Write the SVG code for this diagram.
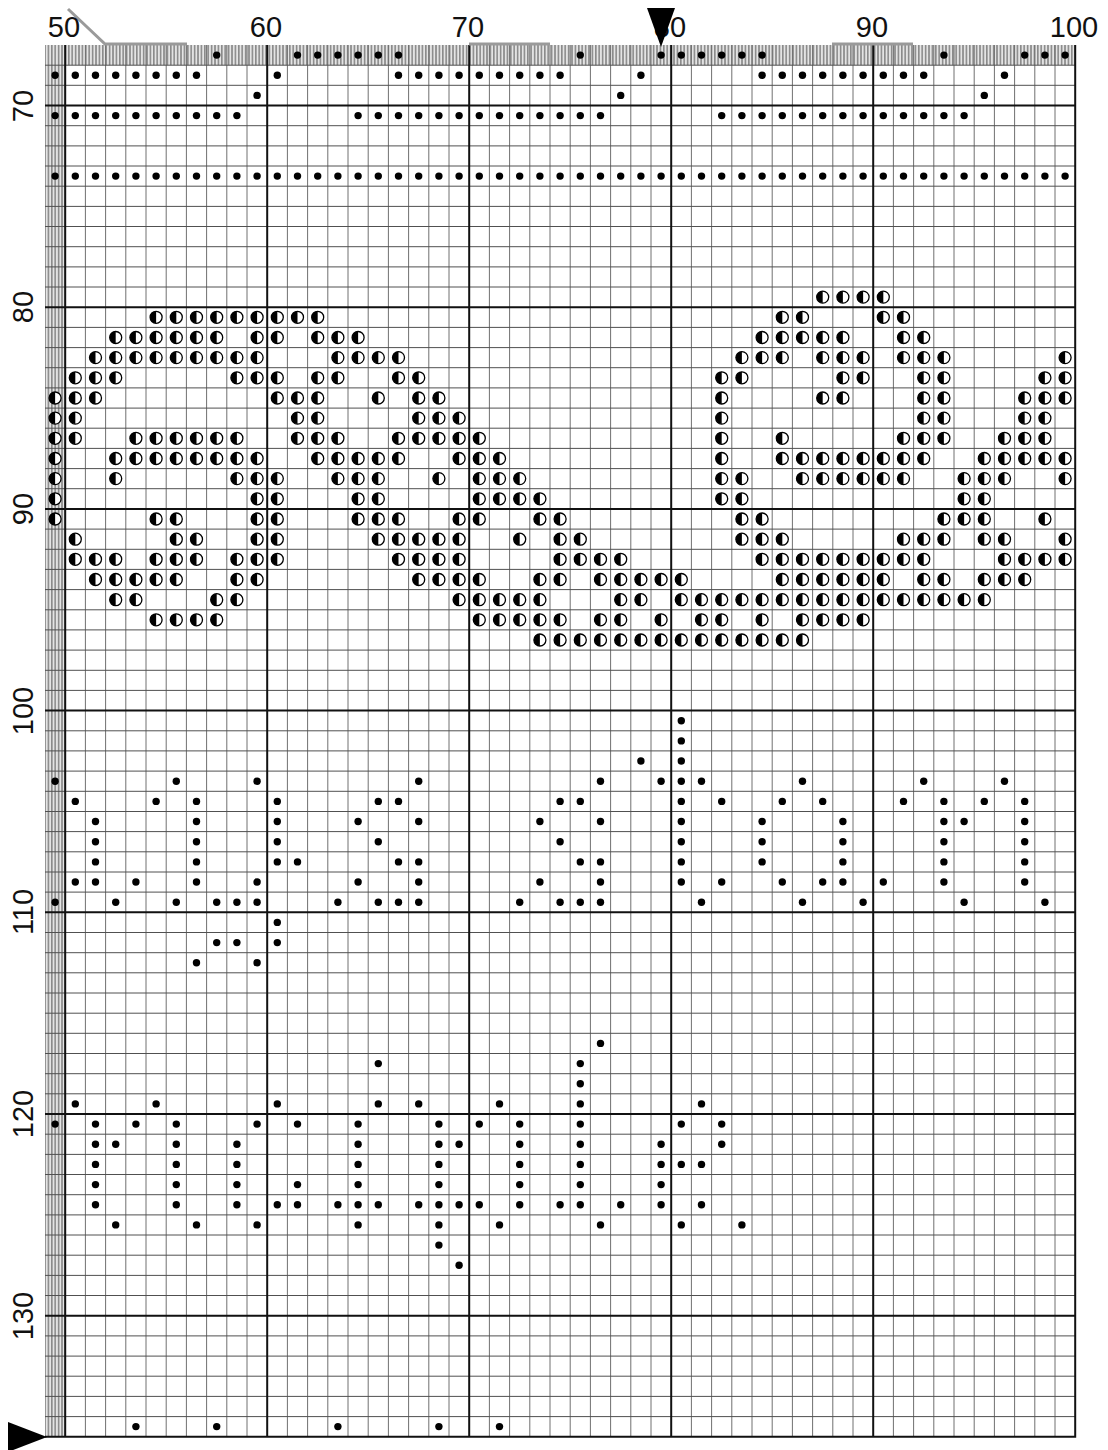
<svg xmlns="http://www.w3.org/2000/svg" xmlns:xlink="http://www.w3.org/1999/xlink" width="1108" height="1450" viewBox="0 0 1108 1450">
<style>
.lbl{font-family:"Liberation Sans",Arial,sans-serif;font-size:29px;fill:#111}
.thv{stroke:#707070;stroke-width:1;fill:none}
.thh{stroke:#505050;stroke-width:1;fill:none}
.bold{stroke:#111;stroke-width:2;fill:none}
.ruler{stroke:#9a9a9a;stroke-width:3;fill:none}
</style>
<defs>
<pattern id="hatch" patternUnits="userSpaceOnUse" width="3.4" height="10"><rect width="3.4" height="10" fill="#e4e4e4"/><rect width="1.6" height="10" fill="#8a8a8a"/></pattern>
<circle id="d" r="3.7" fill="#000"/>
<g id="h"><circle r="6" fill="#fff" stroke="#000" stroke-width="1.3"/><path d="M0,-6A6,6 0 0 0 0,6Z" fill="#000"/></g>
</defs>
<rect width="1108" height="1450" fill="#fff"/>
<g id="band">
<rect x="45" y="45" width="1030.2" height="20.2" fill="url(#hatch)"/>
<rect x="45" y="45" width="20.2" height="1391.7" fill="url(#hatch)"/>
</g>
<g id="grid">
<path class="thv" d="M85.4,45V1436.7M105.6,45V1436.7M125.8,45V1436.7M146,45V1436.7M166.2,45V1436.7M186.4,45V1436.7M206.6,45V1436.7M226.8,45V1436.7M247,45V1436.7M287.4,45V1436.7M307.6,45V1436.7M327.8,45V1436.7M348,45V1436.7M368.2,45V1436.7M388.4,45V1436.7M408.6,45V1436.7M428.8,45V1436.7M449,45V1436.7M489.4,45V1436.7M509.6,45V1436.7M529.8,45V1436.7M550,45V1436.7M570.2,45V1436.7M590.4,45V1436.7M610.6,45V1436.7M630.8,45V1436.7M651,45V1436.7M691.4,45V1436.7M711.6,45V1436.7M731.8,45V1436.7M752,45V1436.7M772.2,45V1436.7M792.4,45V1436.7M812.6,45V1436.7M832.8,45V1436.7M853,45V1436.7M893.4,45V1436.7M913.6,45V1436.7M933.8,45V1436.7M954,45V1436.7M974.2,45V1436.7M994.4,45V1436.7M1014.6,45V1436.7M1034.8,45V1436.7M1055,45V1436.7"/>
<path class="thh" d="M45,65.2H1075.2M45,85.3H1075.2M45,125.7H1075.2M45,145.9H1075.2M45,166H1075.2M45,186.2H1075.2M45,206.4H1075.2M45,226.5H1075.2M45,246.7H1075.2M45,266.9H1075.2M45,287H1075.2M45,327.4H1075.2M45,347.6H1075.2M45,367.7H1075.2M45,387.9H1075.2M45,408.1H1075.2M45,428.2H1075.2M45,448.4H1075.2M45,468.6H1075.2M45,488.7H1075.2M45,529.1H1075.2M45,549.3H1075.2M45,569.4H1075.2M45,589.6H1075.2M45,609.8H1075.2M45,629.9H1075.2M45,650.1H1075.2M45,670.3H1075.2M45,690.4H1075.2M45,730.8H1075.2M45,750.9H1075.2M45,771.1H1075.2M45,791.3H1075.2M45,811.5H1075.2M45,831.6H1075.2M45,851.8H1075.2M45,872H1075.2M45,892.1H1075.2M45,932.5H1075.2M45,952.7H1075.2M45,972.8H1075.2M45,993H1075.2M45,1013.2H1075.2M45,1033.3H1075.2M45,1053.5H1075.2M45,1073.7H1075.2M45,1093.8H1075.2M45,1134.2H1075.2M45,1154.4H1075.2M45,1174.5H1075.2M45,1194.7H1075.2M45,1214.9H1075.2M45,1235H1075.2M45,1255.2H1075.2M45,1275.4H1075.2M45,1295.5H1075.2M45,1335.9H1075.2M45,1356.1H1075.2M45,1376.2H1075.2M45,1396.4H1075.2M45,1416.6H1075.2"/>
<path class="bold" d="M65.2,45V1436.7M267.2,45V1436.7M469.2,45V1436.7M671.2,45V1436.7M873.2,45V1436.7M1075.2,45V1437.7M45,105.5H1075.2M45,307.2H1075.2M45,508.9H1075.2M45,710.6H1075.2M45,912.3H1075.2M45,1114H1075.2M45,1315.7H1075.2M45,1436.7H1076.2"/>
</g>
<g id="rulers">
<polyline class="ruler" points="68,9 105,44 187,44"/>
<line class="ruler" x1="469" y1="44" x2="550" y2="44"/>
<line class="ruler" x1="832" y1="44" x2="913" y2="44"/>
</g>
<g id="half-stitches">
<g transform="translate(0,297.1)"><use href="#h" x="822.7"/><use href="#h" x="842.9"/><use href="#h" x="863.1"/><use href="#h" x="883.3"/></g>
<g transform="translate(0,317.3)"><use href="#h" x="156.1"/><use href="#h" x="176.3"/><use href="#h" x="196.5"/><use href="#h" x="216.7"/><use href="#h" x="236.9"/><use href="#h" x="257.1"/><use href="#h" x="277.3"/><use href="#h" x="297.5"/><use href="#h" x="317.7"/><use href="#h" x="782.3"/><use href="#h" x="802.5"/><use href="#h" x="883.3"/><use href="#h" x="903.5"/></g>
<g transform="translate(0,337.5)"><use href="#h" x="115.7"/><use href="#h" x="135.9"/><use href="#h" x="156.1"/><use href="#h" x="176.3"/><use href="#h" x="196.5"/><use href="#h" x="216.7"/><use href="#h" x="257.1"/><use href="#h" x="277.3"/><use href="#h" x="317.7"/><use href="#h" x="337.9"/><use href="#h" x="358.1"/><use href="#h" x="762.1"/><use href="#h" x="782.3"/><use href="#h" x="802.5"/><use href="#h" x="822.7"/><use href="#h" x="842.9"/><use href="#h" x="903.5"/><use href="#h" x="923.7"/></g>
<g transform="translate(0,357.6)"><use href="#h" x="95.5"/><use href="#h" x="115.7"/><use href="#h" x="135.9"/><use href="#h" x="156.1"/><use href="#h" x="176.3"/><use href="#h" x="196.5"/><use href="#h" x="216.7"/><use href="#h" x="236.9"/><use href="#h" x="257.1"/><use href="#h" x="337.9"/><use href="#h" x="358.1"/><use href="#h" x="378.3"/><use href="#h" x="398.5"/><use href="#h" x="741.9"/><use href="#h" x="762.1"/><use href="#h" x="782.3"/><use href="#h" x="822.7"/><use href="#h" x="842.9"/><use href="#h" x="863.1"/><use href="#h" x="903.5"/><use href="#h" x="923.7"/><use href="#h" x="943.9"/><use href="#h" x="1065.1"/></g>
<g transform="translate(0,377.8)"><use href="#h" x="75.3"/><use href="#h" x="95.5"/><use href="#h" x="115.7"/><use href="#h" x="236.9"/><use href="#h" x="257.1"/><use href="#h" x="277.3"/><use href="#h" x="317.7"/><use href="#h" x="337.9"/><use href="#h" x="398.5"/><use href="#h" x="418.7"/><use href="#h" x="721.7"/><use href="#h" x="741.9"/><use href="#h" x="842.9"/><use href="#h" x="863.1"/><use href="#h" x="923.7"/><use href="#h" x="943.9"/><use href="#h" x="1044.9"/><use href="#h" x="1065.1"/></g>
<g transform="translate(0,398)"><use href="#h" x="55.1"/><use href="#h" x="75.3"/><use href="#h" x="95.5"/><use href="#h" x="277.3"/><use href="#h" x="297.5"/><use href="#h" x="317.7"/><use href="#h" x="378.3"/><use href="#h" x="418.7"/><use href="#h" x="438.9"/><use href="#h" x="721.7"/><use href="#h" x="822.7"/><use href="#h" x="842.9"/><use href="#h" x="923.7"/><use href="#h" x="943.9"/><use href="#h" x="1024.7"/><use href="#h" x="1044.9"/><use href="#h" x="1065.1"/></g>
<g transform="translate(0,418.1)"><use href="#h" x="55.1"/><use href="#h" x="75.3"/><use href="#h" x="297.5"/><use href="#h" x="317.7"/><use href="#h" x="418.7"/><use href="#h" x="438.9"/><use href="#h" x="459.1"/><use href="#h" x="721.7"/><use href="#h" x="923.7"/><use href="#h" x="943.9"/><use href="#h" x="1024.7"/><use href="#h" x="1044.9"/></g>
<g transform="translate(0,438.3)"><use href="#h" x="55.1"/><use href="#h" x="75.3"/><use href="#h" x="135.9"/><use href="#h" x="156.1"/><use href="#h" x="176.3"/><use href="#h" x="196.5"/><use href="#h" x="216.7"/><use href="#h" x="236.9"/><use href="#h" x="297.5"/><use href="#h" x="317.7"/><use href="#h" x="337.9"/><use href="#h" x="398.5"/><use href="#h" x="418.7"/><use href="#h" x="438.9"/><use href="#h" x="459.1"/><use href="#h" x="479.3"/><use href="#h" x="721.7"/><use href="#h" x="782.3"/><use href="#h" x="903.5"/><use href="#h" x="923.7"/><use href="#h" x="943.9"/><use href="#h" x="1004.5"/><use href="#h" x="1024.7"/><use href="#h" x="1044.9"/></g>
<g transform="translate(0,458.5)"><use href="#h" x="55.1"/><use href="#h" x="115.7"/><use href="#h" x="135.9"/><use href="#h" x="156.1"/><use href="#h" x="176.3"/><use href="#h" x="196.5"/><use href="#h" x="216.7"/><use href="#h" x="236.9"/><use href="#h" x="257.1"/><use href="#h" x="317.7"/><use href="#h" x="337.9"/><use href="#h" x="358.1"/><use href="#h" x="378.3"/><use href="#h" x="398.5"/><use href="#h" x="459.1"/><use href="#h" x="479.3"/><use href="#h" x="499.5"/><use href="#h" x="721.7"/><use href="#h" x="782.3"/><use href="#h" x="802.5"/><use href="#h" x="822.7"/><use href="#h" x="842.9"/><use href="#h" x="863.1"/><use href="#h" x="883.3"/><use href="#h" x="903.5"/><use href="#h" x="923.7"/><use href="#h" x="984.3"/><use href="#h" x="1004.5"/><use href="#h" x="1024.7"/><use href="#h" x="1044.9"/><use href="#h" x="1065.1"/></g>
<g transform="translate(0,478.6)"><use href="#h" x="55.1"/><use href="#h" x="115.7"/><use href="#h" x="236.9"/><use href="#h" x="257.1"/><use href="#h" x="277.3"/><use href="#h" x="337.9"/><use href="#h" x="358.1"/><use href="#h" x="378.3"/><use href="#h" x="438.9"/><use href="#h" x="479.3"/><use href="#h" x="499.5"/><use href="#h" x="519.7"/><use href="#h" x="721.7"/><use href="#h" x="741.9"/><use href="#h" x="802.5"/><use href="#h" x="822.7"/><use href="#h" x="842.9"/><use href="#h" x="863.1"/><use href="#h" x="883.3"/><use href="#h" x="903.5"/><use href="#h" x="964.1"/><use href="#h" x="984.3"/><use href="#h" x="1004.5"/><use href="#h" x="1065.1"/></g>
<g transform="translate(0,498.8)"><use href="#h" x="55.1"/><use href="#h" x="257.1"/><use href="#h" x="277.3"/><use href="#h" x="358.1"/><use href="#h" x="378.3"/><use href="#h" x="479.3"/><use href="#h" x="499.5"/><use href="#h" x="519.7"/><use href="#h" x="539.9"/><use href="#h" x="721.7"/><use href="#h" x="741.9"/><use href="#h" x="964.1"/><use href="#h" x="984.3"/></g>
<g transform="translate(0,519)"><use href="#h" x="55.1"/><use href="#h" x="156.1"/><use href="#h" x="176.3"/><use href="#h" x="257.1"/><use href="#h" x="277.3"/><use href="#h" x="358.1"/><use href="#h" x="378.3"/><use href="#h" x="398.5"/><use href="#h" x="459.1"/><use href="#h" x="479.3"/><use href="#h" x="539.9"/><use href="#h" x="560.1"/><use href="#h" x="741.9"/><use href="#h" x="762.1"/><use href="#h" x="943.9"/><use href="#h" x="964.1"/><use href="#h" x="984.3"/><use href="#h" x="1044.9"/></g>
<g transform="translate(0,539.2)"><use href="#h" x="75.3"/><use href="#h" x="176.3"/><use href="#h" x="196.5"/><use href="#h" x="257.1"/><use href="#h" x="277.3"/><use href="#h" x="378.3"/><use href="#h" x="398.5"/><use href="#h" x="418.7"/><use href="#h" x="438.9"/><use href="#h" x="459.1"/><use href="#h" x="519.7"/><use href="#h" x="560.1"/><use href="#h" x="580.3"/><use href="#h" x="741.9"/><use href="#h" x="762.1"/><use href="#h" x="782.3"/><use href="#h" x="903.5"/><use href="#h" x="923.7"/><use href="#h" x="943.9"/><use href="#h" x="984.3"/><use href="#h" x="1004.5"/><use href="#h" x="1065.1"/></g>
<g transform="translate(0,559.3)"><use href="#h" x="75.3"/><use href="#h" x="95.5"/><use href="#h" x="115.7"/><use href="#h" x="156.1"/><use href="#h" x="176.3"/><use href="#h" x="196.5"/><use href="#h" x="236.9"/><use href="#h" x="257.1"/><use href="#h" x="277.3"/><use href="#h" x="398.5"/><use href="#h" x="418.7"/><use href="#h" x="438.9"/><use href="#h" x="459.1"/><use href="#h" x="560.1"/><use href="#h" x="580.3"/><use href="#h" x="600.5"/><use href="#h" x="620.7"/><use href="#h" x="762.1"/><use href="#h" x="782.3"/><use href="#h" x="802.5"/><use href="#h" x="822.7"/><use href="#h" x="842.9"/><use href="#h" x="863.1"/><use href="#h" x="883.3"/><use href="#h" x="903.5"/><use href="#h" x="923.7"/><use href="#h" x="1004.5"/><use href="#h" x="1024.7"/><use href="#h" x="1044.9"/><use href="#h" x="1065.1"/></g>
<g transform="translate(0,579.5)"><use href="#h" x="95.5"/><use href="#h" x="115.7"/><use href="#h" x="135.9"/><use href="#h" x="156.1"/><use href="#h" x="176.3"/><use href="#h" x="236.9"/><use href="#h" x="257.1"/><use href="#h" x="418.7"/><use href="#h" x="438.9"/><use href="#h" x="459.1"/><use href="#h" x="479.3"/><use href="#h" x="539.9"/><use href="#h" x="560.1"/><use href="#h" x="600.5"/><use href="#h" x="620.7"/><use href="#h" x="640.9"/><use href="#h" x="661.1"/><use href="#h" x="681.3"/><use href="#h" x="782.3"/><use href="#h" x="802.5"/><use href="#h" x="822.7"/><use href="#h" x="842.9"/><use href="#h" x="863.1"/><use href="#h" x="883.3"/><use href="#h" x="923.7"/><use href="#h" x="943.9"/><use href="#h" x="984.3"/><use href="#h" x="1004.5"/><use href="#h" x="1024.7"/></g>
<g transform="translate(0,599.7)"><use href="#h" x="115.7"/><use href="#h" x="135.9"/><use href="#h" x="216.7"/><use href="#h" x="236.9"/><use href="#h" x="459.1"/><use href="#h" x="479.3"/><use href="#h" x="499.5"/><use href="#h" x="519.7"/><use href="#h" x="539.9"/><use href="#h" x="620.7"/><use href="#h" x="640.9"/><use href="#h" x="681.3"/><use href="#h" x="701.5"/><use href="#h" x="721.7"/><use href="#h" x="741.9"/><use href="#h" x="762.1"/><use href="#h" x="782.3"/><use href="#h" x="802.5"/><use href="#h" x="822.7"/><use href="#h" x="842.9"/><use href="#h" x="863.1"/><use href="#h" x="883.3"/><use href="#h" x="903.5"/><use href="#h" x="923.7"/><use href="#h" x="943.9"/><use href="#h" x="964.1"/><use href="#h" x="984.3"/></g>
<g transform="translate(0,619.8)"><use href="#h" x="156.1"/><use href="#h" x="176.3"/><use href="#h" x="196.5"/><use href="#h" x="216.7"/><use href="#h" x="479.3"/><use href="#h" x="499.5"/><use href="#h" x="519.7"/><use href="#h" x="539.9"/><use href="#h" x="560.1"/><use href="#h" x="600.5"/><use href="#h" x="620.7"/><use href="#h" x="661.1"/><use href="#h" x="701.5"/><use href="#h" x="721.7"/><use href="#h" x="762.1"/><use href="#h" x="802.5"/><use href="#h" x="822.7"/><use href="#h" x="842.9"/><use href="#h" x="863.1"/></g>
<g transform="translate(0,640)"><use href="#h" x="539.9"/><use href="#h" x="560.1"/><use href="#h" x="580.3"/><use href="#h" x="600.5"/><use href="#h" x="620.7"/><use href="#h" x="640.9"/><use href="#h" x="661.1"/><use href="#h" x="681.3"/><use href="#h" x="701.5"/><use href="#h" x="721.7"/><use href="#h" x="741.9"/><use href="#h" x="762.1"/><use href="#h" x="782.3"/><use href="#h" x="802.5"/></g>
</g>
<g id="full-stitches">
<g transform="translate(0,55.1)"><use href="#d" x="216.7"/><use href="#d" x="297.5"/><use href="#d" x="317.7"/><use href="#d" x="337.9"/><use href="#d" x="358.1"/><use href="#d" x="378.3"/><use href="#d" x="398.5"/><use href="#d" x="580.3"/><use href="#d" x="661.1"/><use href="#d" x="681.3"/><use href="#d" x="701.5"/><use href="#d" x="721.7"/><use href="#d" x="741.9"/><use href="#d" x="762.1"/><use href="#d" x="943.9"/><use href="#d" x="1024.7"/><use href="#d" x="1044.9"/><use href="#d" x="1065.1"/></g>
<g transform="translate(0,75.3)"><use href="#d" x="55.1"/><use href="#d" x="75.3"/><use href="#d" x="95.5"/><use href="#d" x="115.7"/><use href="#d" x="135.9"/><use href="#d" x="156.1"/><use href="#d" x="176.3"/><use href="#d" x="196.5"/><use href="#d" x="277.3"/><use href="#d" x="398.5"/><use href="#d" x="418.7"/><use href="#d" x="438.9"/><use href="#d" x="459.1"/><use href="#d" x="479.3"/><use href="#d" x="499.5"/><use href="#d" x="519.7"/><use href="#d" x="539.9"/><use href="#d" x="560.1"/><use href="#d" x="640.9"/><use href="#d" x="762.1"/><use href="#d" x="782.3"/><use href="#d" x="802.5"/><use href="#d" x="822.7"/><use href="#d" x="842.9"/><use href="#d" x="863.1"/><use href="#d" x="883.3"/><use href="#d" x="903.5"/><use href="#d" x="923.7"/><use href="#d" x="1004.5"/></g>
<g transform="translate(0,95.4)"><use href="#d" x="257.1"/><use href="#d" x="620.7"/><use href="#d" x="984.3"/></g>
<g transform="translate(0,115.6)"><use href="#d" x="55.1"/><use href="#d" x="75.3"/><use href="#d" x="95.5"/><use href="#d" x="115.7"/><use href="#d" x="135.9"/><use href="#d" x="156.1"/><use href="#d" x="176.3"/><use href="#d" x="196.5"/><use href="#d" x="216.7"/><use href="#d" x="236.9"/><use href="#d" x="358.1"/><use href="#d" x="378.3"/><use href="#d" x="398.5"/><use href="#d" x="418.7"/><use href="#d" x="438.9"/><use href="#d" x="459.1"/><use href="#d" x="479.3"/><use href="#d" x="499.5"/><use href="#d" x="519.7"/><use href="#d" x="539.9"/><use href="#d" x="560.1"/><use href="#d" x="580.3"/><use href="#d" x="600.5"/><use href="#d" x="721.7"/><use href="#d" x="741.9"/><use href="#d" x="762.1"/><use href="#d" x="782.3"/><use href="#d" x="802.5"/><use href="#d" x="822.7"/><use href="#d" x="842.9"/><use href="#d" x="863.1"/><use href="#d" x="883.3"/><use href="#d" x="903.5"/><use href="#d" x="923.7"/><use href="#d" x="943.9"/><use href="#d" x="964.1"/></g>
<g transform="translate(0,176.1)"><use href="#d" x="55.1"/><use href="#d" x="75.3"/><use href="#d" x="95.5"/><use href="#d" x="115.7"/><use href="#d" x="135.9"/><use href="#d" x="156.1"/><use href="#d" x="176.3"/><use href="#d" x="196.5"/><use href="#d" x="216.7"/><use href="#d" x="236.9"/><use href="#d" x="257.1"/><use href="#d" x="277.3"/><use href="#d" x="297.5"/><use href="#d" x="317.7"/><use href="#d" x="337.9"/><use href="#d" x="358.1"/><use href="#d" x="378.3"/><use href="#d" x="398.5"/><use href="#d" x="418.7"/><use href="#d" x="438.9"/><use href="#d" x="459.1"/><use href="#d" x="479.3"/><use href="#d" x="499.5"/><use href="#d" x="519.7"/><use href="#d" x="539.9"/><use href="#d" x="560.1"/><use href="#d" x="580.3"/><use href="#d" x="600.5"/><use href="#d" x="620.7"/><use href="#d" x="640.9"/><use href="#d" x="661.1"/><use href="#d" x="681.3"/><use href="#d" x="701.5"/><use href="#d" x="721.7"/><use href="#d" x="741.9"/><use href="#d" x="762.1"/><use href="#d" x="782.3"/><use href="#d" x="802.5"/><use href="#d" x="822.7"/><use href="#d" x="842.9"/><use href="#d" x="863.1"/><use href="#d" x="883.3"/><use href="#d" x="903.5"/><use href="#d" x="923.7"/><use href="#d" x="943.9"/><use href="#d" x="964.1"/><use href="#d" x="984.3"/><use href="#d" x="1004.5"/><use href="#d" x="1024.7"/><use href="#d" x="1044.9"/><use href="#d" x="1065.1"/></g>
<g transform="translate(0,720.7)"><use href="#d" x="681.3"/></g>
<g transform="translate(0,740.9)"><use href="#d" x="681.3"/></g>
<g transform="translate(0,761)"><use href="#d" x="640.9"/><use href="#d" x="681.3"/></g>
<g transform="translate(0,781.2)"><use href="#d" x="55.1"/><use href="#d" x="176.3"/><use href="#d" x="257.1"/><use href="#d" x="418.7"/><use href="#d" x="600.5"/><use href="#d" x="661.1"/><use href="#d" x="681.3"/><use href="#d" x="701.5"/><use href="#d" x="802.5"/><use href="#d" x="923.7"/><use href="#d" x="1004.5"/></g>
<g transform="translate(0,801.4)"><use href="#d" x="75.3"/><use href="#d" x="156.1"/><use href="#d" x="196.5"/><use href="#d" x="277.3"/><use href="#d" x="378.3"/><use href="#d" x="398.5"/><use href="#d" x="560.1"/><use href="#d" x="580.3"/><use href="#d" x="681.3"/><use href="#d" x="721.7"/><use href="#d" x="782.3"/><use href="#d" x="822.7"/><use href="#d" x="903.5"/><use href="#d" x="943.9"/><use href="#d" x="984.3"/><use href="#d" x="1024.7"/></g>
<g transform="translate(0,821.5)"><use href="#d" x="95.5"/><use href="#d" x="196.5"/><use href="#d" x="277.3"/><use href="#d" x="358.1"/><use href="#d" x="418.7"/><use href="#d" x="539.9"/><use href="#d" x="600.5"/><use href="#d" x="681.3"/><use href="#d" x="762.1"/><use href="#d" x="842.9"/><use href="#d" x="943.9"/><use href="#d" x="964.1"/><use href="#d" x="1024.7"/></g>
<g transform="translate(0,841.7)"><use href="#d" x="95.5"/><use href="#d" x="196.5"/><use href="#d" x="277.3"/><use href="#d" x="378.3"/><use href="#d" x="560.1"/><use href="#d" x="681.3"/><use href="#d" x="762.1"/><use href="#d" x="842.9"/><use href="#d" x="943.9"/><use href="#d" x="1024.7"/></g>
<g transform="translate(0,861.9)"><use href="#d" x="95.5"/><use href="#d" x="196.5"/><use href="#d" x="277.3"/><use href="#d" x="297.5"/><use href="#d" x="398.5"/><use href="#d" x="418.7"/><use href="#d" x="580.3"/><use href="#d" x="600.5"/><use href="#d" x="681.3"/><use href="#d" x="762.1"/><use href="#d" x="842.9"/><use href="#d" x="943.9"/><use href="#d" x="1024.7"/></g>
<g transform="translate(0,882)"><use href="#d" x="75.3"/><use href="#d" x="95.5"/><use href="#d" x="135.9"/><use href="#d" x="196.5"/><use href="#d" x="257.1"/><use href="#d" x="358.1"/><use href="#d" x="418.7"/><use href="#d" x="539.9"/><use href="#d" x="600.5"/><use href="#d" x="681.3"/><use href="#d" x="721.7"/><use href="#d" x="782.3"/><use href="#d" x="822.7"/><use href="#d" x="842.9"/><use href="#d" x="883.3"/><use href="#d" x="943.9"/><use href="#d" x="1024.7"/></g>
<g transform="translate(0,902.2)"><use href="#d" x="55.1"/><use href="#d" x="115.7"/><use href="#d" x="176.3"/><use href="#d" x="216.7"/><use href="#d" x="236.9"/><use href="#d" x="257.1"/><use href="#d" x="337.9"/><use href="#d" x="378.3"/><use href="#d" x="398.5"/><use href="#d" x="418.7"/><use href="#d" x="519.7"/><use href="#d" x="560.1"/><use href="#d" x="580.3"/><use href="#d" x="600.5"/><use href="#d" x="701.5"/><use href="#d" x="802.5"/><use href="#d" x="863.1"/><use href="#d" x="964.1"/><use href="#d" x="1044.9"/></g>
<g transform="translate(0,922.4)"><use href="#d" x="277.3"/></g>
<g transform="translate(0,942.6)"><use href="#d" x="216.7"/><use href="#d" x="236.9"/><use href="#d" x="277.3"/></g>
<g transform="translate(0,962.7)"><use href="#d" x="196.5"/><use href="#d" x="257.1"/></g>
<g transform="translate(0,1043.4)"><use href="#d" x="600.5"/></g>
<g transform="translate(0,1063.6)"><use href="#d" x="378.3"/><use href="#d" x="580.3"/></g>
<g transform="translate(0,1083.7)"><use href="#d" x="580.3"/></g>
<g transform="translate(0,1103.9)"><use href="#d" x="75.3"/><use href="#d" x="156.1"/><use href="#d" x="277.3"/><use href="#d" x="378.3"/><use href="#d" x="418.7"/><use href="#d" x="499.5"/><use href="#d" x="580.3"/><use href="#d" x="701.5"/></g>
<g transform="translate(0,1124.1)"><use href="#d" x="55.1"/><use href="#d" x="95.5"/><use href="#d" x="135.9"/><use href="#d" x="176.3"/><use href="#d" x="257.1"/><use href="#d" x="297.5"/><use href="#d" x="358.1"/><use href="#d" x="438.9"/><use href="#d" x="479.3"/><use href="#d" x="519.7"/><use href="#d" x="580.3"/><use href="#d" x="681.3"/><use href="#d" x="721.7"/></g>
<g transform="translate(0,1144.3)"><use href="#d" x="95.5"/><use href="#d" x="115.7"/><use href="#d" x="176.3"/><use href="#d" x="236.9"/><use href="#d" x="358.1"/><use href="#d" x="438.9"/><use href="#d" x="459.1"/><use href="#d" x="519.7"/><use href="#d" x="580.3"/><use href="#d" x="661.1"/><use href="#d" x="721.7"/></g>
<g transform="translate(0,1164.4)"><use href="#d" x="95.5"/><use href="#d" x="176.3"/><use href="#d" x="236.9"/><use href="#d" x="358.1"/><use href="#d" x="438.9"/><use href="#d" x="519.7"/><use href="#d" x="580.3"/><use href="#d" x="661.1"/><use href="#d" x="681.3"/><use href="#d" x="701.5"/></g>
<g transform="translate(0,1184.6)"><use href="#d" x="95.5"/><use href="#d" x="176.3"/><use href="#d" x="236.9"/><use href="#d" x="297.5"/><use href="#d" x="358.1"/><use href="#d" x="438.9"/><use href="#d" x="519.7"/><use href="#d" x="580.3"/><use href="#d" x="661.1"/></g>
<g transform="translate(0,1204.8)"><use href="#d" x="95.5"/><use href="#d" x="176.3"/><use href="#d" x="236.9"/><use href="#d" x="277.3"/><use href="#d" x="297.5"/><use href="#d" x="337.9"/><use href="#d" x="358.1"/><use href="#d" x="378.3"/><use href="#d" x="418.7"/><use href="#d" x="438.9"/><use href="#d" x="459.1"/><use href="#d" x="479.3"/><use href="#d" x="519.7"/><use href="#d" x="560.1"/><use href="#d" x="580.3"/><use href="#d" x="620.7"/><use href="#d" x="661.1"/><use href="#d" x="701.5"/></g>
<g transform="translate(0,1224.9)"><use href="#d" x="115.7"/><use href="#d" x="196.5"/><use href="#d" x="257.1"/><use href="#d" x="358.1"/><use href="#d" x="438.9"/><use href="#d" x="499.5"/><use href="#d" x="600.5"/><use href="#d" x="681.3"/><use href="#d" x="741.9"/></g>
<g transform="translate(0,1245.1)"><use href="#d" x="438.9"/></g>
<g transform="translate(0,1265.3)"><use href="#d" x="459.1"/></g>
<g transform="translate(0,1426.6)"><use href="#d" x="135.9"/><use href="#d" x="216.7"/><use href="#d" x="337.9"/><use href="#d" x="438.9"/><use href="#d" x="499.5"/></g>
</g>
<g id="column-labels" class="lbl" text-anchor="middle">
<text x="64" y="37">50</text>
<text x="266" y="37">60</text>
<text x="468" y="37">70</text>
<text x="670" y="37">80</text>
<text x="872" y="37">90</text>
<text x="1074" y="37">100</text>
</g>
<g id="row-labels" class="lbl" text-anchor="middle">
<text transform="translate(33,106) rotate(-90)">70</text>
<text transform="translate(33,307) rotate(-90)">80</text>
<text transform="translate(33,509) rotate(-90)">90</text>
<text transform="translate(33,711) rotate(-90)">100</text>
<text transform="translate(33,912) rotate(-90)">110</text>
<text transform="translate(33,1114) rotate(-90)">120</text>
<text transform="translate(33,1316) rotate(-90)">130</text>
</g>
<g id="center-markers" fill="#000">
<polygon points="647,8 675,8 661,47"/>
<polygon points="8,1422 47,1437 8,1452"/>
</g>
</svg>
